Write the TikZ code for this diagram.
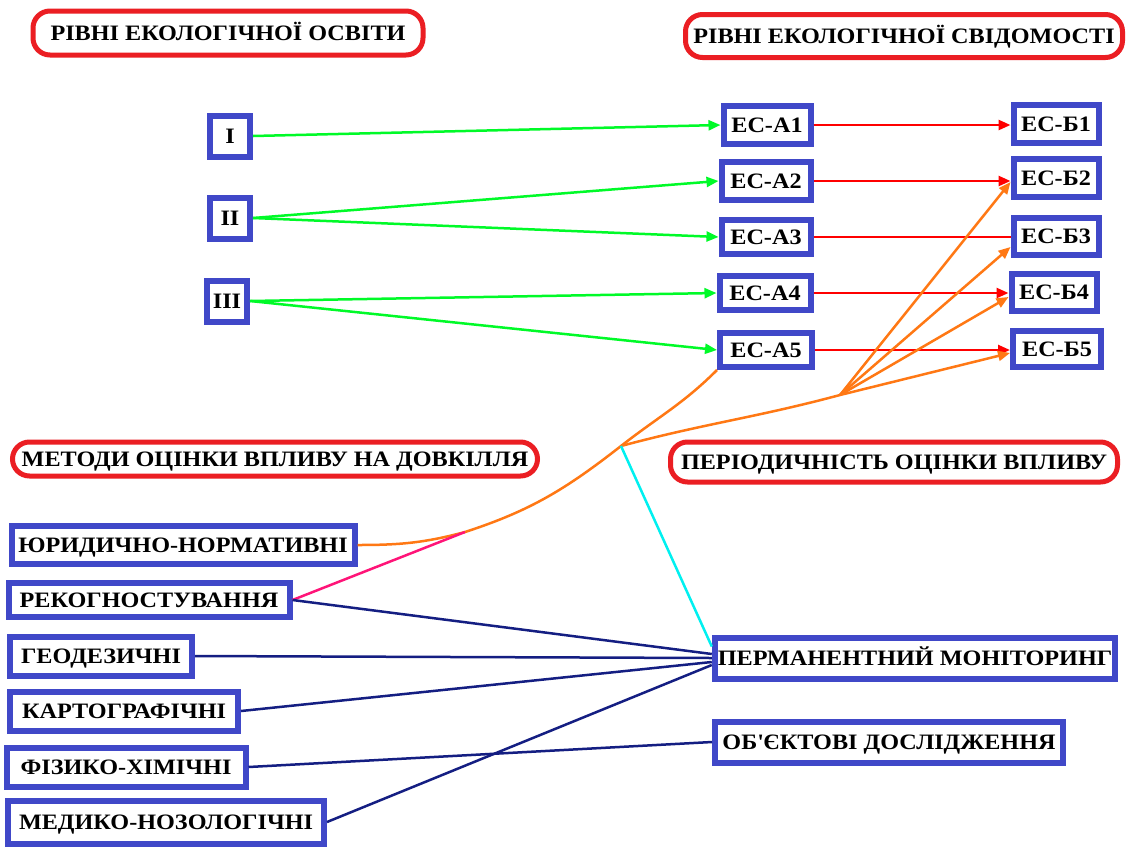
\documentclass[tikz,border=0pt]{standalone}
\usepackage{fontspec}
\setmainfont{Liberation Serif}[FakeStretch=1.1]
\usetikzlibrary{arrows.meta}
\definecolor{boxblue}{RGB}{64,72,200}
\definecolor{titlered}{RGB}{235,30,35}
\definecolor{edugreen}{RGB}{0,250,40}
\definecolor{conred}{RGB}{255,0,0}
\definecolor{perorange}{RGB}{255,120,20}
\definecolor{monnavy}{RGB}{20,30,130}
\definecolor{recpink}{RGB}{255,20,120}
\definecolor{moncyan}{RGB}{0,240,240}
\tikzset{
	txt/.style={font=\bfseries\fontsize{22}{24}\selectfont,text height=15pt,text depth=1pt},
	level/.style={txt,draw=boxblue,line width=6pt,fill=white,inner xsep=3pt,inner ysep=2pt,minimum height=38pt},
	roman/.style={level,minimum width=40pt,minimum height=41pt},
	head/.style={txt,draw=titlered,line width=5pt,rounded corners=17pt,fill=white,inner xsep=3pt,inner ysep=2pt},
	tip/.style={-{Triangle[length=12pt,width=10pt]}},
	eduline/.style={edugreen,line width=2.5pt,tip},
	conline/.style={conred,line width=2.5pt,tip},
	perline/.style={perorange,line width=2.5pt,tip},
	monline/.style={monnavy,line width=2.5pt},
	recline/.style={recpink,line width=2.5pt},
	cyline/.style={moncyan,line width=2.5pt},
}
\begin{document}
\begin{tikzpicture}[x=1pt,y=-1pt]
\useasboundingbox[fill=white] (0,0) rectangle (1130,847);

% headings
\node (hedu) at (228,33) [head,minimum width=390pt,minimum height=44pt] {РІВНІ ЕКОЛОГІЧНОЇ ОСВІТИ};
\node (hcon) at (904,36) [head,minimum width=437pt,minimum height=43pt] {РІВНІ ЕКОЛОГІЧНОЇ СВІДОМОСТІ};
\node (hmet) at (275,459) [head,minimum width=525pt,minimum height=34pt] {МЕТОДИ ОЦІНКИ ВПЛИВУ НА ДОВКІЛЛЯ};
\node (hper) at (894,462) [head,minimum width=447pt,minimum height=40pt] {ПЕРІОДИЧНІСТЬ ОЦІНКИ ВПЛИВУ};

% levels of education
\node (r1) at (230,136) [roman] {I};
\node (r2) at (230,218) [roman] {II};
\node (r3) at (227,301) [roman] {III};

% levels of consciousness
\node (a1) at (767,125) [level,minimum width=87pt] {ЕС-А1};
\node (a2) at (766,181) [level,minimum width=89pt] {ЕС-А2};
\node (a3) at (766,237) [level,minimum width=89pt,minimum height=34pt] {ЕС-А3};
\node (a4) at (765,293) [level,minimum width=91pt,minimum height=34pt] {ЕС-А4};
\node (a5) at (766,350) [level,minimum width=92pt,minimum height=34pt] {ЕС-А5};
\node (b1) at (1056,124) [level,minimum width=85pt] {ЕС-Б1};
\node (b2) at (1056,178) [level,minimum width=85pt] {ЕС-Б2};
\node (b3) at (1056,236) [level,minimum width=85pt,minimum height=37pt] {ЕС-Б3};
\node (b4) at (1054,292) [level,minimum width=85pt,minimum height=37pt] {ЕС-Б4};
\node (b5) at (1057,349) [level,minimum width=88pt,minimum height=36pt] {ЕС-Б5};

% methods
\node (jur) at (183,545) [level,minimum width=343pt] {ЮРИДИЧНО-НОРМАТИВНІ};
\node (rek) at (149,600) [level,minimum width=281pt,minimum height=34pt] {РЕКОГНОСТУВАННЯ};
\node (geo) at (101,656) [level,minimum width=182pt,minimum height=39pt] {ГЕОДЕЗИЧНІ};
\node (kart) at (124,711) [level,minimum width=228pt,minimum height=39pt] {КАРТОГРАФІЧНІ};
\node (fiz) at (126,767) [level,minimum width=239pt,minimum height=39pt] {ФІЗИКО-ХІМІЧНІ};
\node (med) at (166,822) [level,minimum width=316pt,minimum height=43pt] {МЕДИКО-НОЗОЛОГІЧНІ};

% periodicity
\node (perm) at (915,658) [level,minimum width=398pt,minimum height=41pt] {ПЕРМАНЕНТНИЙ МОНІТОРИНГ};
\node (obj) at (889,742) [level,minimum width=348pt,minimum height=41pt] {ОБ\textquotesingle ЄКТОВІ ДОСЛІДЖЕННЯ};

\coordinate (kink) at (465,532);
\coordinate (j1) at (621,446);
\coordinate (j2) at (840,395);

\foreach \s/\t in {r1/a1,r2/a2,r2/a3,r3/a4,r3/a5}
	\draw[eduline] (\s.east) -- (\t.west);
\foreach \i in {1,2,4,5}
	\draw[conline] (a\i.east) -- (a\i.east -| b\i.west);
\draw[conline,-] (a3.east) -- (a3.east -| b3.west);

\draw[perline,-] (jur.east) to[out=0,in=195] (kink) to[out=18,in=218] (j1) to[out=38,in=225] (a5.south west);
\draw[perline,-] (j1) to[out=15,in=195] (j2);
\foreach \i/\d in {2/4,3/11,4/5,5/4}
	\draw[perline] (j2) -- ([yshift=-\d pt]b\i.west);

\draw[recline] (rek.east) -- (kink);
\draw[cyline] (j1) -- ([yshift=-12pt]perm.north west);
\foreach \s/\d in {rek/4,geo/0,kart/-4,med/-7}
	\draw[monline] (\s.east) -- ([yshift=\d pt]perm.west);
\draw[monline] (fiz.east) -- (obj.west);
\end{tikzpicture}
\end{document}
